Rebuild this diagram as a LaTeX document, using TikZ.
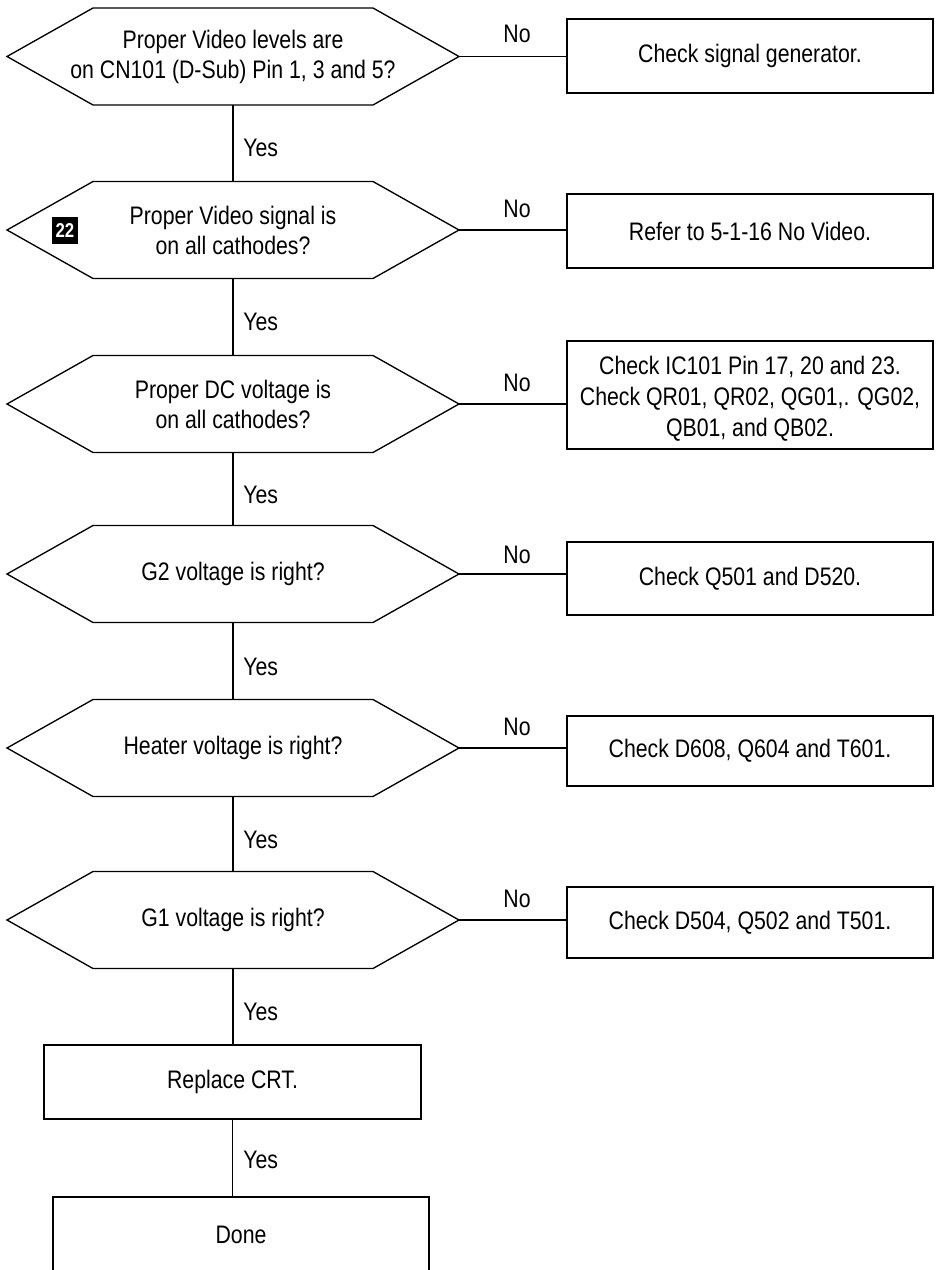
\documentclass[tikz,border=0pt]{standalone}
\usepackage{fontspec}
\setmainfont{Liberation Sans}[FakeStretch=0.84]
\newcommand\hexdec[3]{%
  \node[hexbody] (#1) at (233,#2) {};
  \node[txt] (#1t) at (#1.center) {#3};
  \draw[ln] (#1.north west) -- (#1.north east) -- ([xshift=64.5pt]#1.east) coordinate (#1r)
    -- (#1.south east) -- (#1.south west) -- ([xshift=-64.5pt]#1.west) coordinate (#1l) -- cycle;}
\begin{document}
\begin{tikzpicture}[x=0.75pt,y=-0.75pt,
  every node/.style={font=\fontsize{19}{22.5}\selectfont},
  ln/.style={draw=black, line width=1pt},
  hexbody/.style={minimum width=210pt, minimum height=72.75pt, inner sep=0pt, outer sep=0pt},
  box/.style={draw, line width=1pt, inner sep=0pt, outer sep=0pt, minimum width=274.5pt},
  txt/.style={align=center, inner sep=0pt},
  yes/.style={anchor=west, inner sep=0pt},
  no/.style={inner sep=0pt}]
\useasboundingbox (0,0) rectangle (935,1270);
\clip (0,0) rectangle (935,1270);

% decisions
\hexdec{h1}{56.5}{Proper Video levels are\\on CN101 (D-Sub) Pin 1, 3 and 5?}
\hexdec{h2}{230}{Proper Video signal is\\on all cathodes?}
\hexdec{h3}{404}{Proper DC voltage is\\on all cathodes?}
\hexdec{h4}{574}{G2 voltage is right?}
\hexdec{h5}{748}{Heater voltage is right?}
\hexdec{h6}{920}{G1 voltage is right?}

% tag
\node[fill=black, text=white, font=\bfseries\fontsize{15}{15}\selectfont,
      minimum width=19.5pt, minimum height=20pt, inner sep=0pt] (tag) at (65,230.5) {22};

% action boxes
\node[box, minimum height=55.5pt] (b1) at (750,56) {Check signal generator.};
\node[box, minimum height=55.5pt] (b2) at (750,231) {Refer to 5-1-16 No Video.};
\node[box, minimum height=81pt] (b3) at (750,395) {};
\node[txt, font=\fontsize{19}{23.25}\selectfont] (b3t) at (750,399) {Check IC101 Pin 17, 20 and 23.\\Check QR01, QR02, QG01,. QG02,\\QB01, and QB02.};
\node[box, minimum height=54.75pt] (b4) at (750,578.5) {Check Q501 and D520.};
\node[box, minimum height=52.5pt] (b5) at (750,751) {Check D608, Q604 and T601.};
\node[box, minimum height=53.25pt] (b6) at (750,922.5) {Check D504, Q502 and T501.};

\node[box, minimum width=282.75pt, minimum height=55.5pt] (rep) at (232.5,1082) {Replace CRT.};
\node[box, minimum width=282pt, minimum height=77.25pt] (done) at (241,1248.5) {};
\node[txt] (donet) at (241,1235) {Done};

% horizontal No connectors
\foreach \h/\b in {h1/b1,h2/b2,h3/b3,h4/b4,h5/b5,h6/b6}
  \draw[ln] (\h r) -- (\h r -| \b.west);

% vertical Yes connectors
\draw[ln] (h1.south) -- (h2.north);
\draw[ln] (h2.south) -- (h3.north);
\draw[ln] (h3.south) -- (h4.north);
\draw[ln] (h4.south) -- (h5.north);
\draw[ln] (h5.south) -- (h6.north);
\draw[ln] (h6.south) -- (h6.south |- rep.north);
\draw[ln] (rep.south) -- (rep.south |- done.north);

% labels
\node[no] (n1) at (517,34) {No};
\node[no] (n2) at (517,209) {No};
\node[no] (n3) at (517,383) {No};
\node[no] (n4) at (517,555) {No};
\node[no] (n5) at (517,727) {No};
\node[no] (n6) at (517,899) {No};

\node[yes] (y1) at (243,148) {Yes};
\node[yes] (y2) at (243,322) {Yes};
\node[yes] (y3) at (243,495) {Yes};
\node[yes] (y4) at (243,667) {Yes};
\node[yes] (y5) at (243,840) {Yes};
\node[yes] (y6) at (243,1012) {Yes};
\node[yes] (y7) at (243,1160) {Yes};
\end{tikzpicture}
\end{document}
